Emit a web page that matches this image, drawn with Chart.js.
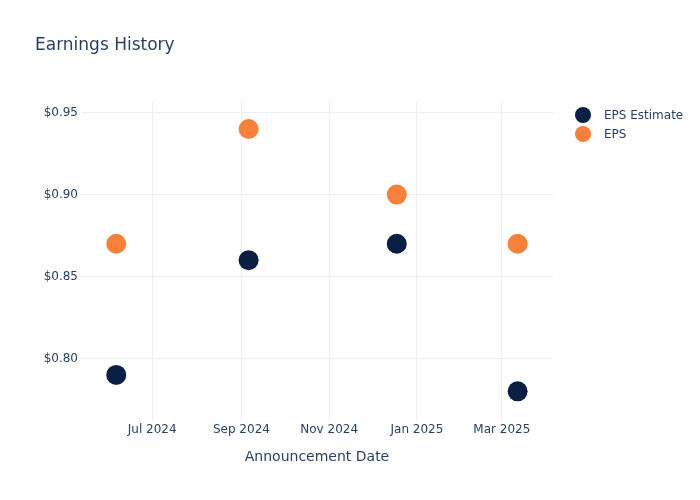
<!DOCTYPE html>
<html lang="en">
<head>
    <meta charset="UTF-8">
    <title>Earnings History</title>
    <style>
        body {
            margin: 0;
            padding: 0;
            background-color: #fff;
            font-family: "DejaVu Sans", sans-serif;
        }
        .wrap {
            position: relative;
            width: 700px;
            height: 500px;
        }
        .legend {
            position: absolute;
            left: 575px;
            top: 105px;
            font-size: 12px;
            color: #2a3f5f;
        }
        .legend-item {
            display: flex;
            align-items: center;
            height: 19px;
        }
        .legend-dot {
            width: 16px;
            height: 16px;
            border-radius: 50%;
            margin-right: 13px;
        }
    </style>
</head>
<body>
    <div class="wrap">
        <canvas id="earningsChart" width="700" height="500"></canvas>
        <div id="legend" class="legend"></div>
    </div>

    <script src="https://cdn.jsdelivr.net/npm/chart.js"></script>
    <script>
        // Data
        const announceDates = ['2024-06-06', '2024-09-06', '2024-12-18', '2025-03-12'];
        const epsEstimate = [0.79, 0.86, 0.87, 0.78];
        const epsActual = [0.87, 0.94, 0.90, 0.87];
        const seriesNames = ['EPS Estimate', 'EPS'];

        // Axis ticks
        const xTickDates = ['2024-07-01', '2024-09-01', '2024-11-01', '2025-01-01', '2025-03-01'];
        const xTickLabels = ['Jul 2024', 'Sep 2024', 'Nov 2024', 'Jan 2025', 'Mar 2025'];
        const yTicks = [0.80, 0.85, 0.90, 0.95];

        const navy = '#0b1f42';
        const orange = '#f7813a';
        const textColor = '#2a3f5f';
        const gridColor = '#ebf0f8';

        const xTickValues = xTickDates.map(d => Date.parse(d));

        function toPoints(values) {
            return announceDates.map((d, i) => ({ x: Date.parse(d), y: values[i] }));
        }

        const datasets = [
            { label: seriesNames[0], data: toPoints(epsEstimate), backgroundColor: navy },
            { label: seriesNames[1], data: toPoints(epsActual), backgroundColor: orange }
        ].map(ds => ({
            label: ds.label,
            data: ds.data,
            backgroundColor: ds.backgroundColor,
            borderWidth: 0,
            pointRadius: 10,
            pointHoverRadius: 10,
            showLine: false
        }));

        Chart.defaults.font.family = '"DejaVu Sans", sans-serif';
        Chart.defaults.color = textColor;

        const ctx = document.getElementById('earningsChart').getContext('2d');
        const chart = new Chart(ctx, {
            type: 'scatter',
            data: { datasets: datasets },
            options: {
                responsive: false,
                animation: false,
                devicePixelRatio: 1,
                layout: {
                    padding: { left: 35, right: 147, top: 1, bottom: 0 }
                },
                plugins: {
                    legend: { display: false },
                    tooltip: { enabled: false },
                    title: {
                        display: true,
                        text: 'Earnings History',
                        align: 'start',
                        color: textColor,
                        font: { size: 17, weight: 'normal' },
                        padding: { top: 34, bottom: 45.6 }
                    }
                },
                scales: {
                    x: {
                        type: 'linear',
                        min: Date.UTC(2024, 4, 12, 12),
                        max: Date.UTC(2025, 3, 5, 14),
                        afterBuildTicks: scale => {
                            scale.ticks = xTickValues.map(v => ({ value: v }));
                        },
                        afterFit: scale => { scale.height = 80; },
                        ticks: {
                            padding: 3,
                            maxRotation: 0,
                            autoSkip: false,
                            font: { size: 12 },
                            color: textColor,
                            callback: value => xTickLabels[xTickValues.indexOf(value)]
                        },
                        grid: { color: gridColor, drawTicks: false },
                        border: { display: false },
                        title: {
                            display: true,
                            text: 'Announcement Date',
                            color: textColor,
                            font: { size: 14 },
                            padding: { top: 0, bottom: 34 }
                        }
                    },
                    y: {
                        min: 0.7625,
                        max: 0.9571,
                        afterBuildTicks: scale => {
                            scale.ticks = yTicks.map(v => ({ value: v }));
                        },
                        afterFit: scale => { scale.width = 46; },
                        ticks: {
                            padding: 3,
                            font: { size: 12 },
                            color: textColor,
                            callback: value => '$' + value.toFixed(2)
                        },
                        grid: { color: gridColor, drawTicks: false },
                        border: { display: false }
                    }
                }
            }
        });

        // Legend as plain HTML, top right
        const legend = document.getElementById('legend');
        chart.data.datasets.forEach(ds => {
            const item = document.createElement('div');
            item.className = 'legend-item';
            const dot = document.createElement('span');
            dot.className = 'legend-dot';
            dot.style.backgroundColor = ds.backgroundColor;
            const label = document.createElement('span');
            label.textContent = ds.label;
            item.appendChild(dot);
            item.appendChild(label);
            legend.appendChild(item);
        });
    </script>
</body>
</html>
